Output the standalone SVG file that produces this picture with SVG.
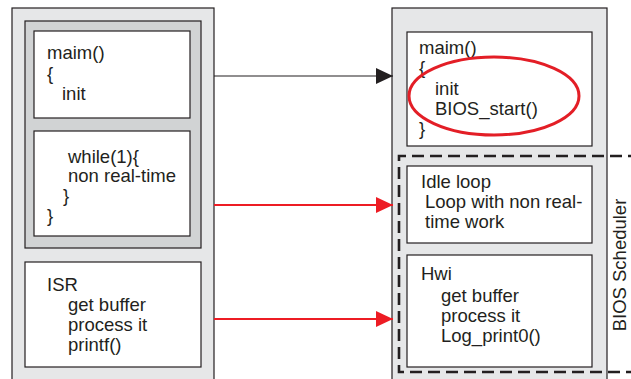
<svg xmlns="http://www.w3.org/2000/svg" width="631" height="379" viewBox="0 0 631 379">
<defs>
<style>
.panel{fill:#e6e7e8;stroke:#231f20;stroke-width:1.2}
.group{fill:#d1d3d4;stroke:#231f20;stroke-width:1.2}
.box{fill:#ffffff;stroke:#231f20;stroke-width:1.2}
text{font-family:"Liberation Sans",Arial,sans-serif;font-size:18.5px;fill:#231f20}
.dash{fill:none;stroke:#231f20;stroke-width:2.6;stroke-dasharray:12 6}
.blk{stroke:#231f20;stroke-width:1.2;fill:none}
.red{stroke:#ed1c24;stroke-width:2.2;fill:none}
</style>
<marker id="ahB" markerUnits="userSpaceOnUse" markerWidth="18" markerHeight="16" refX="17" refY="8" orient="auto"><path d="M0,0 L17,8 L0,16 Z" fill="#231f20"/></marker>
<marker id="ahR" markerUnits="userSpaceOnUse" markerWidth="18" markerHeight="16" refX="17" refY="8" orient="auto"><path d="M0,0 L17,8 L0,16 Z" fill="#ed1c24"/></marker>
</defs>
<rect width="631" height="379" fill="#ffffff"/>
<g id="left-panel">
<rect class="panel" x="12" y="8" width="202" height="380"/>
<rect class="group" x="25" y="21" width="176" height="227"/>
</g>
<g id="left-main">
<rect class="box" x="34" y="31" width="156" height="87"/>
<text x="47" y="59">maim()</text>
<text x="47" y="80">{</text>
<text x="62" y="100">init</text>
</g>
<g id="left-while">
<rect class="box" x="34" y="131" width="156" height="105"/>
<text x="68" y="163">while(1){</text>
<text x="68" y="182">non real-time</text>
<text x="63" y="202">}</text>
<text x="47" y="222">}</text>
</g>
<g id="left-isr">
<rect class="box" x="25" y="262" width="176" height="105"/>
<text x="47" y="291">ISR</text>
<text x="68" y="311">get buffer</text>
<text x="68" y="331">process it</text>
<text x="68" y="351">printf()</text>
</g>
<g id="right-panel">
<rect class="panel" x="392" y="8" width="215" height="380"/>
</g>
<g id="right-main">
<rect class="box" x="407" y="32" width="185" height="114"/>
<text x="419" y="54">maim()</text>
<text x="419" y="74">{</text>
<text x="435" y="95">init</text>
<text x="435" y="115">BIOS_start()</text>
<text x="419" y="135">}</text>
<ellipse cx="494" cy="96" rx="85" ry="39" fill="none" stroke="#e31e26" stroke-width="3"/>
</g>
<g id="bios-scheduler">
<path class="dash" d="M640,156 H399 V372 H640"/>
<text transform="translate(626,265) rotate(-90)" text-anchor="middle">BIOS Scheduler</text>
</g>
<g id="idle-loop">
<rect class="box" x="407" y="166" width="185" height="77"/>
<text x="421" y="188">Idle loop</text>
<text x="425" y="208">Loop with non real-</text>
<text x="425" y="228">time work</text>
</g>
<g id="hwi">
<rect class="box" x="407" y="255" width="185" height="112"/>
<text x="421" y="280">Hwi</text>
<text x="441" y="302">get buffer</text>
<text x="441" y="322">process it</text>
<text x="441" y="342">Log_print0()</text>
</g>
<g id="connectors">
<line class="blk" x1="214" y1="76" x2="393" y2="76" marker-end="url(#ahB)"/>
<line class="red" x1="214" y1="205" x2="393" y2="205" marker-end="url(#ahR)"/>
<line class="red" x1="214" y1="319" x2="393" y2="319" marker-end="url(#ahR)"/>
</g>
</svg>
